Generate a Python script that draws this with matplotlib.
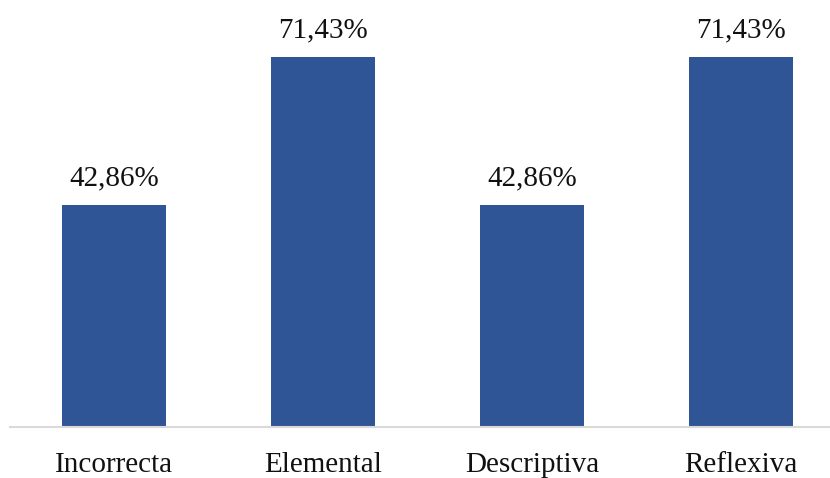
import matplotlib.pyplot as plt

categorias = ["Incorrecta", "Elemental", "Descriptiva", "Reflexiva"]
porcentajes = [42.86, 71.43, 42.86, 71.43]
etiquetas = ["42,86%", "71,43%", "42,86%", "71,43%"]

plt.rcParams['font.family'] = ['Liberation Serif', 'DejaVu Serif']

fig = plt.figure(figsize=(8.3, 4.78), dpi=100)
# ejes en pixeles: izquierda 9.5, base 427 desde arriba
ax = fig.add_axes([9.5 / 830, (478 - 427) / 478, (830 - 9.5) / 830, 427 / 478])

x = range(len(categorias))
barras = ax.bar(x, porcentajes, width=0.5, color="#2F5597")

for b, txt in zip(barras, etiquetas):
    ax.text(b.get_x() + b.get_width() / 2, b.get_height() + 3.8, txt,
            ha="center", va="baseline", fontsize=21, color="#111111")

ax.set_xlim(-0.5, (830 - 9.5) / 209 - 0.5)
ax.set_ylim(0, 427 / 5.18)
ax.set_xticks(list(x))
ax.set_xticklabels(categorias, fontsize=21, color="#111111")
ax.tick_params(axis="x", length=0, pad=18)
ax.set_yticks([])
for s in ["top", "right", "left"]:
    ax.spines[s].set_visible(False)
ax.spines["bottom"].set_color("#d9d9d9")
ax.spines["bottom"].set_linewidth(1.5)

fig.savefig("out.png", dpi=100)
